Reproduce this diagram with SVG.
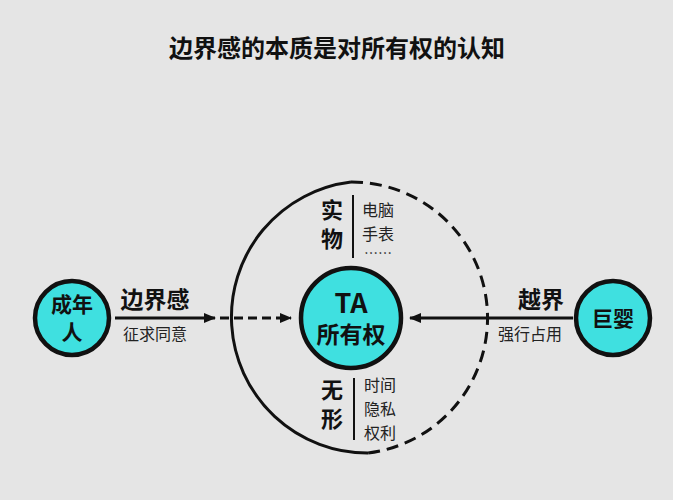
<svg xmlns="http://www.w3.org/2000/svg" width="673" height="500" viewBox="0 0 673 500">
<style>
.b{font-family:"Noto Sans CJK SC","Liberation Serif",serif;font-weight:bold;fill:#111;text-anchor:middle}
.n{font-family:"Noto Sans CJK SC","Liberation Sans",sans-serif;fill:#222;text-anchor:middle}
.node{fill:#3fe0e0;stroke:#111;stroke-width:4.5}
.ln{stroke:#111;stroke-width:3;fill:none}
</style>
<defs><marker id="ah" markerWidth="12" markerHeight="10" refX="11" refY="5" orient="auto" markerUnits="userSpaceOnUse"><path d="M0,0 L12,5 L0,10 z" fill="#111"/></marker></defs>
<rect width="673" height="500" fill="#e5e5e5"/>
<text class="b" x="337" y="57" font-size="24">边界感的本质是对所有权的认知</text>
<g id="ring">
<path class="ln" d="M351,182 A136,136 0 0 0 368,453" stroke-width="4.5"/>
<path class="ln" d="M351,182 A136,136 0 0 1 368,453" stroke-width="4.5" stroke-dasharray="12,7"/>
</g>
<g id="connectors">
<line class="ln" x1="115" y1="318" x2="215" y2="318" marker-end="url(#ah)"/>
<line class="ln" x1="220" y1="318" x2="291" y2="318" stroke-dasharray="9,5" marker-end="url(#ah)"/>
<line class="ln" x1="573" y1="318" x2="410" y2="318" marker-end="url(#ah)"/>
<text class="b" x="155" y="308" font-size="23">边界感</text>
<text class="n" x="155" y="340" font-size="16">征求同意</text>
<text class="b" x="541" y="308" font-size="23">越界</text>
<text class="n" x="530" y="340" font-size="16">强行占用</text>
</g>
<g id="center"><circle class="node" cx="351" cy="318" r="50"/>
<text class="b" x="351" y="313" font-size="27" font-family="Liberation Serif">TA</text>
<text class="b" x="351" y="343" font-size="23">所有权</text></g>
<g id="adult"><circle class="node" cx="72" cy="318" r="37"/>
<text class="b" x="72" y="312" font-size="21">成年</text><text class="b" x="72" y="340" font-size="21">人</text></g>
<g id="baby"><circle class="node" cx="613" cy="318" r="37"/>
<text class="b" x="613" y="326" font-size="21">巨婴</text></g>
<g id="physical">
<text class="b" x="332" y="218" font-size="22">实</text><text class="b" x="332" y="247" font-size="22">物</text>
<line x1="353" y1="195" x2="353" y2="258" stroke="#111" stroke-width="2"/>
<text class="n" x="378" y="216" font-size="16">电脑</text><text class="n" x="378" y="240" font-size="16">手表</text><text class="n" x="378" y="258" font-size="14">……</text>
</g>
<g id="intangible">
<text class="b" x="332" y="398" font-size="22">无</text><text class="b" x="332" y="427" font-size="22">形</text>
<line x1="354" y1="378" x2="354" y2="440" stroke="#111" stroke-width="2"/>
<text class="n" x="380" y="391" font-size="16">时间</text><text class="n" x="380" y="415" font-size="16">隐私</text><text class="n" x="380" y="439" font-size="16">权利</text>
</g>
</svg>
